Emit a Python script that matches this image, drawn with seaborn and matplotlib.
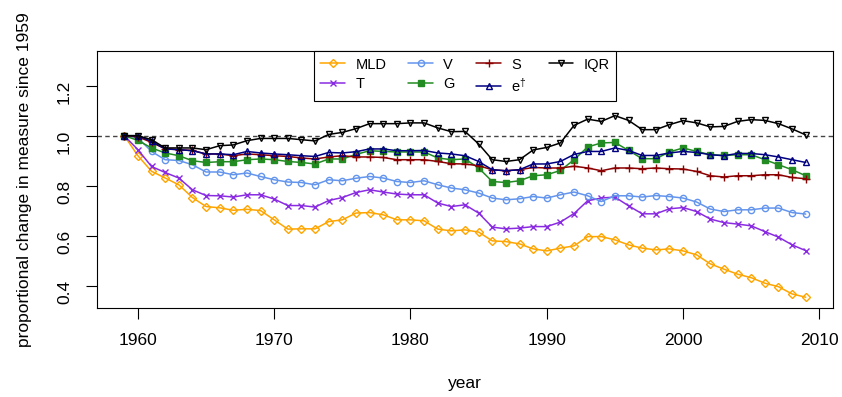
"""
Proportional change in measures since 1959
"""

import pandas as pd
import matplotlib.pyplot as plt
import seaborn as sns

# %% data

years = list(range(1959, 2010))

mld = [1.0, .92, .858, .831, .804, .753, .717, .712, .702, .706,
       .701, .664, .627, .628, .628, .657, .664, .691, .693, .684,
       .664, .664, .66, .627, .62, .624, .615, .58, .577, .568,
       .548, .54, .551, .56, .597, .597, .584, .564, .551, .544,
       .548, .54, .524, .488, .467, .447, .433, .411, .397, .368, .355]

t = [1.0, .944, .877, .853, .831, .784, .761, .76, .755, .764,
     .764, .747, .721, .721, .715, .741, .753, .773, .784, .775,
     .767, .764, .764, .731, .717, .724, .691, .635, .628, .631,
     .637, .637, .655, .689, .74, .751, .755, .72, .688, .688,
     .708, .713, .697, .667, .653, .647, .64, .617, .595, .564, .541]

v = [1.0, .991, .937, .904, .901, .884, .855, .855, .844, .851,
     .837, .824, .815, .813, .804, .824, .82, .83, .837, .831,
     .817, .813, .82, .804, .791, .784, .771, .751, .744, .748,
     .757, .751, .764, .775, .76, .737, .76, .76, .755, .761,
     .757, .751, .735, .707, .697, .704, .704, .711, .711, .693, .687]

g = [1.0, .981, .951, .931, .92, .9, .893, .896, .896, .904,
     .907, .904, .897, .893, .887, .907, .907, .925, .94, .937,
     .935, .935, .935, .911, .904, .907, .871, .817, .813, .82,
     .84, .844, .861, .904, .955, .971, .973, .941, .908, .908,
     .935, .951, .937, .924, .921, .924, .924, .904, .884, .864, .84]

s = [1.0, .996, .973, .948, .944, .941, .927, .927, .92, .927,
     .924, .92, .917, .911, .907, .915, .92, .915, .915, .913,
     .904, .904, .904, .897, .888, .887, .88, .864, .86, .864,
     .873, .871, .871, .878, .871, .86, .871, .871, .868, .871,
     .868, .867, .857, .84, .835, .84, .84, .844, .844, .833, .828]

e_dag = [1.0, 1.0, .977, .947, .944, .94, .927, .927, .924, .937,
         .931, .927, .924, .92, .917, .933, .931, .936, .947, .947,
         .94, .94, .941, .931, .927, .92, .897, .864, .86, .864,
         .887, .887, .897, .925, .937, .937, .951, .941, .921, .921,
         .931, .937, .933, .924, .92, .929, .929, .924, .915, .904, .893]

iqr = [1.0, 1.0, .984, .951, .951, .951, .944, .96, .963, .98,
       .989, .989, .989, .984, .979, 1.005, 1.013, 1.028, 1.048, 1.048,
       1.048, 1.051, 1.051, 1.031, 1.016, 1.017, .967, .904, .897, .904,
       .943, .953, .971, 1.041, 1.066, 1.057, 1.08, 1.061, 1.024, 1.024,
       1.044, 1.06, 1.051, 1.035, 1.037, 1.057, 1.064, 1.061, 1.048, 1.027, 1.003]

labels = ['MLD', 'T', 'V', 'G', 'S', r'e$^{\dagger}$', 'IQR']
series = [mld, t, v, g, s, e_dag, iqr]
colors = ['orange', 'blueviolet', 'cornflowerblue', 'forestgreen',
          'darkred', 'navy', 'black']
markers = ['D', 'x', 'o', 's', '+', '^', 'v']
msizes = [4.2, 5, 4.5, 4, 6, 4.8, 4.8]

df = pd.concat([pd.DataFrame({'year': years, 'value': vals, 'measure': lab})
                for lab, vals in zip(labels, series)])

# %% style

sns.set_theme(style='ticks')
plt.rcParams['font.family'] = ['Liberation Sans', 'DejaVu Sans']
plt.rcParams['mathtext.fontset'] = 'custom'
plt.rcParams['mathtext.rm'] = 'Liberation Sans'
plt.rcParams['mathtext.it'] = 'Liberation Sans:italic'
plt.rcParams['axes.edgecolor'] = 'black'
plt.rcParams['axes.linewidth'] = 0.8
for key in ['text.color', 'axes.labelcolor', 'xtick.color', 'ytick.color']:
    plt.rcParams[key] = 'black'

fig = plt.figure(figsize=(8.42, 3.97), dpi=100)
ax = fig.add_axes([0.1152, 0.2242, 0.8741, 0.6473])

ax.axhline(1.0, color='#444444', lw=1, dashes=(3.2, 2.4), zorder=1)

for lab, col, mk, ms in zip(labels, colors, markers, msizes):
    filled = mk == 's'
    sns.lineplot(data=df[df['measure'] == lab], x='year', y='value',
                 color=col, marker=mk, markersize=ms, lw=1.1,
                 markeredgecolor=col, markeredgewidth=1,
                 markerfacecolor=col if filled else 'none',
                 label=lab, legend=False, ax=ax)

ax.set_xlim(1957, 2011)
ax.set_ylim(0.312, 1.338)
ax.set_xticks([1960, 1970, 1980, 1990, 2000, 2010])
ax.set_yticks([0.4, 0.6, 0.8, 1.0, 1.2])
ax.set_yticklabels(['0.4', '0.6', '0.8', '1.0', '1.2'])
ax.tick_params(axis='both', labelsize=12.5, length=8, width=0.8,
               color='black', labelcolor='black', pad=10)
ax.tick_params(axis='y', labelrotation=90)
for sp in ax.spines.values():
    sp.set_visible(True)

ax.set_xlabel('year', fontsize=12.5, labelpad=20)
ax.set_ylabel('proportional change in measure since 1959', fontsize=12.5,
              labelpad=18)

leg = ax.legend(ncol=4, loc='upper center', bbox_to_anchor=(0.5, 1.0),
                borderaxespad=0, fontsize=10.5, frameon=True, fancybox=False,
                edgecolor='black', framealpha=1, handlelength=1.7,
                handletextpad=0.7, columnspacing=1.5, labelspacing=0.35,
                borderpad=0.45)
leg.get_frame().set_linewidth(0.8)

fig.savefig('out.png', dpi=100)
